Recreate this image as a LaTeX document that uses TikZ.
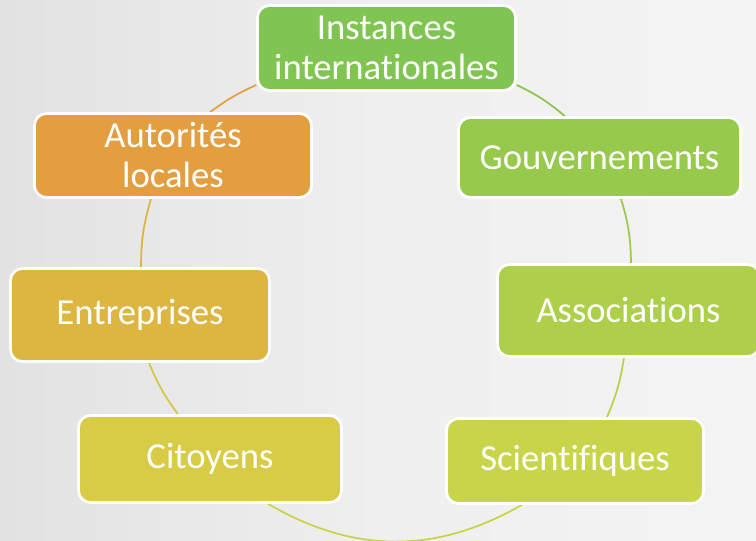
\documentclass[tikz,border=0pt]{standalone}
\usepackage{fontspec}
\setmainfont{Carlito}[Ligatures=NoCommon]
\usetikzlibrary{calc,backgrounds}
\definecolor{bgL}{HTML}{E2E2E2}
\definecolor{bgM}{HTML}{EFEFEF}
\definecolor{bgR}{HTML}{F4F4F4}
\definecolor{cInst}{HTML}{80C451}
\definecolor{cGouv}{HTML}{97C94D}
\definecolor{cAssoc}{HTML}{AECF4A}
\definecolor{cSci}{HTML}{C8D54A}
\definecolor{cCit}{HTML}{D8CC46}
\definecolor{cEntr}{HTML}{DDB541}
\definecolor{cAut}{HTML}{E29E3F}
\definecolor{lInst}{HTML}{8BC54D}
\definecolor{lGouv}{HTML}{9DCA4C}
\definecolor{lAssoc}{HTML}{B7D14A}
\definecolor{lSci}{HTML}{C9D348}
\definecolor{lCit}{HTML}{D6C645}
\definecolor{lEntr}{HTML}{DDB23F}
\definecolor{lAut}{HTML}{E2A03F}
\tikzset{
  box/.style={draw=white, line width=2pt, rounded corners=9pt, text=white,
    align=center, inner sep=0pt, font=\fontsize{27.5}{30}\selectfont},
  link/.style={line width=1.3pt}
}
\begin{document}
\begin{tikzpicture}[x=0.75pt, y=-0.75pt]
\useasboundingbox (0,0) rectangle (756,541);
\clip (0,0) rectangle (756,541);
\node[box, fill=cInst, minimum width=258*0.75pt, minimum height=85*0.75pt] (inst) at (386.5,48) {Instances\\internationales};
\node[box, fill=cAut, minimum width=277*0.75pt, minimum height=84*0.75pt] (aut) at (173,155.5) {Autorités\\locales};
\node[box, fill=cGouv, minimum width=282*0.75pt, minimum height=80*0.75pt] (gouv) at (599.5,157.5) {Gouvernements};
\node[box, fill=cEntr, minimum width=259*0.75pt, minimum height=93*0.75pt] (entr) at (140,315) {Entreprises};
\node[box, fill=cAssoc, minimum width=262*0.75pt, minimum height=92*0.75pt] (assoc) at (628.5,310.5) {Associations};
\node[box, fill=cCit, minimum width=263*0.75pt, minimum height=87*0.75pt] (cit) at (210,459) {Citoyens};
\node[box, fill=cSci, minimum width=257*0.75pt, minimum height=85*0.75pt] (sci) at (575,461) {Scientifiques};
\begin{scope}[on background layer]
\shade[left color=bgL, right color=bgR, middle color=bgM] (0,0) rectangle (756,541);
\draw[link, lAut] ($(aut.north)+(37,0)$) to[bend left=6] ($(inst.west)+(0,37)$);
\draw[link, lInst] ($(inst.east)+(0,37)$) to[bend left=7] ($(gouv.north)+(-34.5,0)$);
\draw[link, lGouv] ($(gouv.south)+(21.5,0)$) to[bend left=8] ($(assoc.north)+(2.5,0)$);
\draw[link, lAssoc] ($(assoc.south)+(-4.5,0)$) to[bend left=7] ($(sci.north)+(32,0)$);
\draw[link, lSci] ($(sci.south)+(-53,0)$) to[bend left=30] ($(cit.south)+(58,0)$);
\draw[link, lCit] ($(cit.north)+(-32,0)$) to[bend left=7] ($(entr.south)+(9,0)$);
\draw[link, lEntr] ($(entr.north)+(1,0)$) to[bend left=8] ($(aut.south)+(-22,0)$);
\end{scope}
\end{tikzpicture}
\end{document}
